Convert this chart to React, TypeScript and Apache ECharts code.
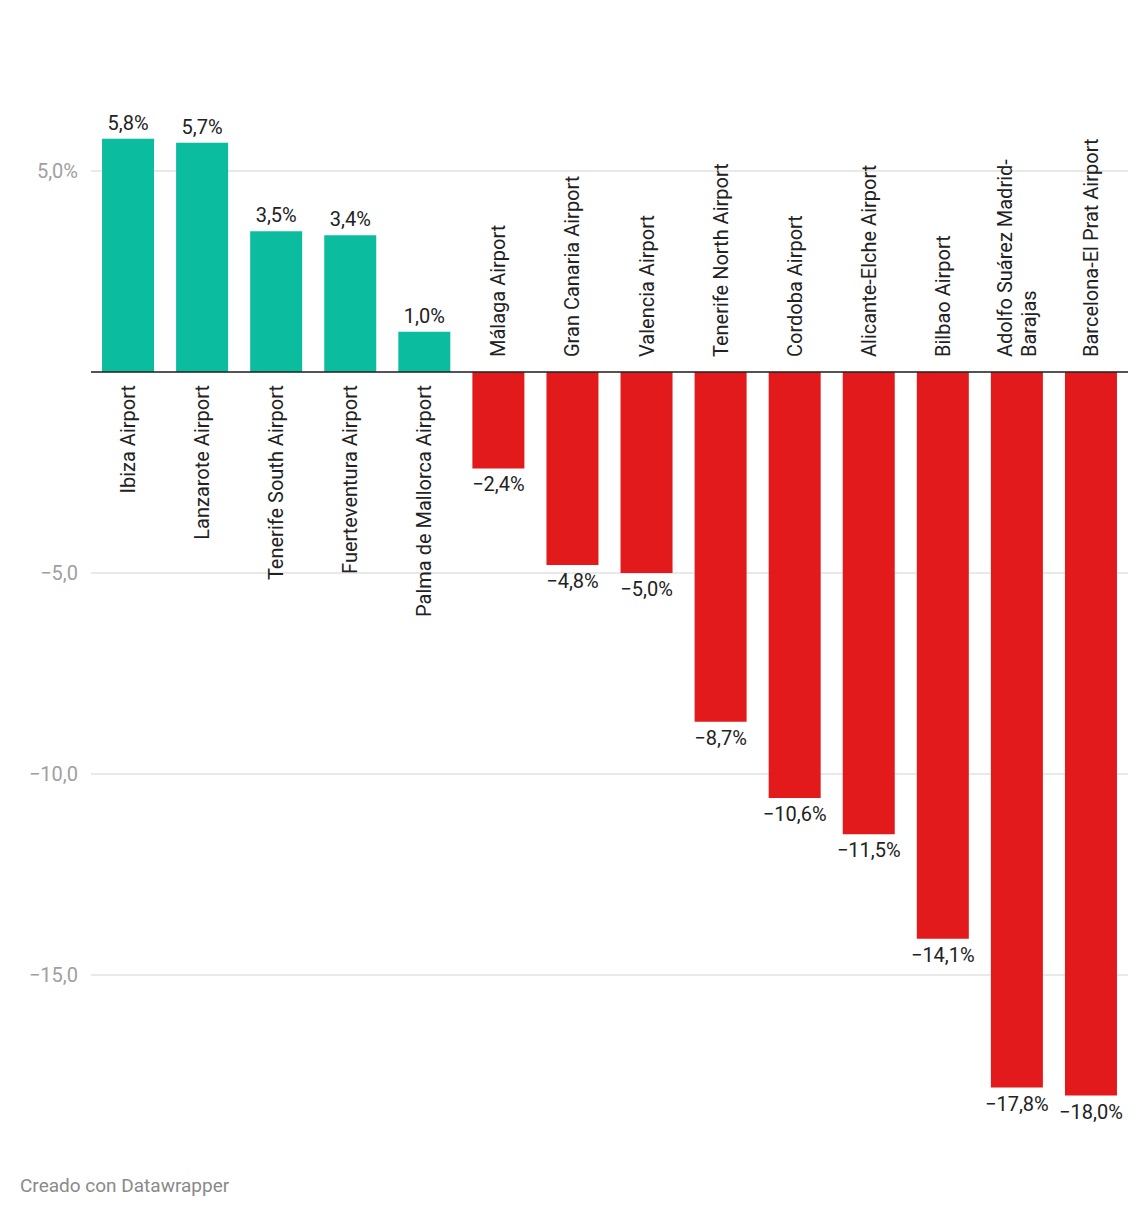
import React, { useEffect, useRef } from 'react';
import * as echarts from 'echarts';

const airports = [
  'Ibiza Airport',
  'Lanzarote Airport',
  'Tenerife South Airport',
  'Fuerteventura Airport',
  'Palma de Mallorca Airport',
  'Málaga Airport',
  'Gran Canaria Airport',
  'Valencia Airport',
  'Tenerife North Airport',
  'Cordoba Airport',
  'Alicante-Elche Airport',
  'Bilbao Airport',
  'Adolfo Suárez Madrid-\nBarajas',
  'Barcelona-El Prat Airport',
];
const changes = [5.8, 5.7, 3.5, 3.4, 1.0, -2.4, -4.8, -5.0, -8.7, -10.6, -11.5, -14.1, -17.8, -18.0];
const yTickValues = [-15, -10, -5, 0, 5];
const yLabelValues = [-15, -10, -5, 5];

const fmtPct = (v: number) => (v < 0 ? '\u2212' : '') + Math.abs(v).toFixed(1).replace('.', ',') + '%';

const App: React.FC = () => {
  const chartRef = useRef<HTMLDivElement>(null);

  useEffect(() => {
    if (!chartRef.current) return;
    const chart = echarts.init(chartRef.current, undefined, { renderer: 'svg' });
    const font = 'Roboto';

    const option: any = {
      animation: false,
      textStyle: { fontFamily: font },
      grid: { left: 91, right: 20, top: 90.6, height: 1005, outerBoundsMode: 'none', containLabel: false },
      xAxis: {
        type: 'category',
        data: airports,
        axisLine: { show: false },
        axisTick: { show: false },
        axisLabel: { show: false },
      },
      yAxis: {
        type: 'value',
        min: -18,
        max: 7,
        axisLine: { show: false },
        axisTick: { show: false, customValues: yTickValues },
        axisLabel: {
          customValues: yLabelValues,
          margin: 13,
          fontSize: 20,
          color: '#a0a0a0',
          formatter: (v: number) => (v < 0 ? '\u2212' : '') + Math.abs(v).toFixed(1).replace('.', ',') + (v > 0 ? '%' : ''),
        },
        splitLine: { show: true, lineStyle: { color: '#e2e2e2', width: 1.5 } },
      },
      series: [
        {
          type: 'bar',
          barWidth: 52,
          data: changes.map((v) => ({
            value: v,
            itemStyle: { color: v >= 0 ? '#0bbc9f' : '#e31a1c' },
            label: {
              show: true,
              position: v >= 0 ? 'top' : 'bottom',
              distance: 6,
              fontSize: 20,
              color: '#222',
              formatter: () => fmtPct(v),
            },
          })),
          markLine: {
            silent: true,
            symbol: 'none',
            label: { show: false },
            lineStyle: { color: '#222', width: 1.5, type: 'solid' },
            data: [{ yAxis: 0 }],
          },
        },
        {
          type: 'custom',
          data: changes.map((v, i) => [i, v]),
          z: 5,
          renderItem: (params: any, api: any) => {
            const i = api.value(0);
            const v = api.value(1);
            const p = api.coord([i, 0]);
            const pos = v >= 0;
            return {
              type: 'text',
              x: p[0],
              y: pos ? p[1] + 13 : p[1] - 15,
              rotation: Math.PI / 2,
              style: {
                text: airports[i],
                align: pos ? 'right' : 'left',
                verticalAlign: 'middle',
                fontSize: 20,
                lineHeight: 24,
                fill: '#222',
                fontFamily: font,
              },
            };
          },
        },
      ],
      graphic: [
        {
          type: 'text',
          left: 20,
          top: 1176,
          style: { text: 'Creado con Datawrapper', fontSize: 19, fill: '#8a8a8a', fontFamily: font },
        },
      ],
    };

    chart.setOption(option);
    return () => chart.dispose();
  }, []);

  return (
    <div
      ref={chartRef}
      style={{ position: 'absolute', left: 0, top: 0, width: 1148, height: 1220, background: '#fff' }}
    />
  );
};

export default App;
